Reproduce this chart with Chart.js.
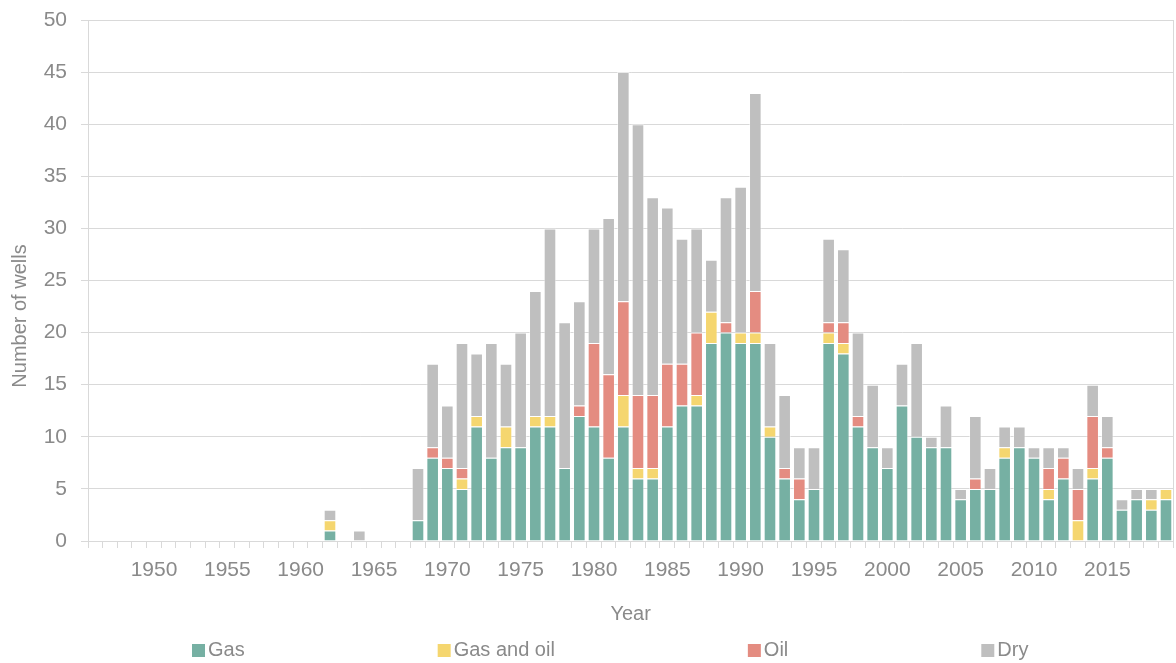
<!DOCTYPE html>
<html lang="en">
<head>
<meta charset="UTF-8">
<title>Number of wells by year</title>
<style>
  body { margin: 0; background: #fff; }
  #wrap { width: 1176px; height: 663px; }
</style>
</head>
<body>
<div id="wrap"><canvas id="wellsChart" width="1176" height="663"></canvas></div>

<script src="https://cdn.jsdelivr.net/npm/chart.js@4.4.0/dist/chart.umd.min.js"></script>
<script>
// --- Data, one entry per year 1946..2019 ---
const years = [
  1946, 1947, 1948, 1949,
  1950, 1951, 1952, 1953, 1954, 1955, 1956, 1957, 1958, 1959,
  1960, 1961, 1962, 1963, 1964, 1965, 1966, 1967, 1968, 1969,
  1970, 1971, 1972, 1973, 1974, 1975, 1976, 1977, 1978, 1979,
  1980, 1981, 1982, 1983, 1984, 1985, 1986, 1987, 1988, 1989,
  1990, 1991, 1992, 1993, 1994, 1995, 1996, 1997, 1998, 1999,
  2000, 2001, 2002, 2003, 2004, 2005, 2006, 2007, 2008, 2009,
  2010, 2011, 2012, 2013, 2014, 2015, 2016, 2017, 2018, 2019
];

const gas = [
  0, 0, 0, 0,
  0, 0, 0, 0, 0, 0, 0, 0, 0, 0,
  0, 0, 1, 0, 0, 0, 0, 0, 2, 8,
  7, 5, 11, 8, 9, 9, 11, 11, 7, 12,
  11, 8, 11, 6, 6, 11, 13, 13, 19, 20,
  19, 19, 10, 6, 4, 5, 19, 18, 11, 9,
  7, 13, 10, 9, 9, 4, 5, 5, 8, 9,
  8, 4, 6, 0, 6, 8, 3, 4, 3, 4
];

const gasAndOil = [
  0, 0, 0, 0,
  0, 0, 0, 0, 0, 0, 0, 0, 0, 0,
  0, 0, 1, 0, 0, 0, 0, 0, 0, 0,
  0, 1, 1, 0, 2, 0, 1, 1, 0, 0,
  0, 0, 3, 1, 1, 0, 0, 1, 3, 0,
  1, 1, 1, 0, 0, 0, 1, 1, 0, 0,
  0, 0, 0, 0, 0, 0, 0, 0, 1, 0,
  0, 1, 0, 2, 1, 0, 0, 0, 1, 1
];

const oil = [
  0, 0, 0, 0,
  0, 0, 0, 0, 0, 0, 0, 0, 0, 0,
  0, 0, 0, 0, 0, 0, 0, 0, 0, 1,
  1, 1, 0, 0, 0, 0, 0, 0, 0, 1,
  8, 8, 9, 7, 7, 6, 4, 6, 0, 1,
  0, 4, 0, 1, 2, 0, 1, 2, 1, 0,
  0, 0, 0, 0, 0, 0, 1, 0, 0, 0,
  0, 2, 2, 3, 5, 1, 0, 0, 0, 0
];

const dry = [
  0, 0, 0, 0,
  0, 0, 0, 0, 0, 0, 0, 0, 0, 0,
  0, 0, 1, 0, 1, 0, 0, 0, 5, 8,
  5, 12, 6, 11, 6, 11, 12, 18, 14, 10,
  11, 15, 22, 26, 19, 15, 12, 10, 5, 12,
  14, 19, 8, 7, 3, 4, 8, 7, 8, 6,
  2, 4, 9, 1, 4, 1, 6, 2, 2, 2,
  1, 2, 1, 2, 3, 3, 1, 1, 1, 0
];

// only these years get a label under the axis
const tickYears = [1950, 1955, 1960, 1965, 1970, 1975, 1980, 1985, 1990, 1995, 2000, 2005, 2010, 2015];

const seriesNames = ['Gas', 'Gas and oil', 'Oil', 'Dry'];
const seriesColors = ['#76b0a3', '#f5d66f', '#e48c81', '#bfbfbf'];

const xTitle = 'Year';
const yTitle = 'Number of wells';

// --- Styling ---
const textColor = '#8a8a8a';
const lineColor = '#d9d9d9';
const fontFamily = '"Liberation Sans", Arial, sans-serif';

// y title and the spread-out legend are drawn by hand (Chart.js legend can't space items this wide)
const sideText = {
    id: 'sideText',
    afterDraw(chart) {
        const ctx = chart.ctx;

        ctx.save();
        ctx.fillStyle = textColor;
        ctx.font = '20px ' + fontFamily;
        ctx.textAlign = 'center';
        ctx.textBaseline = 'middle';
        ctx.translate(20, 316);
        ctx.rotate(-Math.PI / 2);
        ctx.fillText(yTitle, 0, 0);
        ctx.restore();

        ctx.save();
        ctx.font = '20px ' + fontFamily;
        ctx.textAlign = 'left';
        ctx.textBaseline = 'middle';
        let x = 192;
        chart.data.datasets.forEach(ds => {
            ctx.fillStyle = ds.backgroundColor;
            ctx.fillRect(x, 644, 13, 13);
            ctx.fillStyle = textColor;
            ctx.fillText(ds.label, x + 16, 650.5);
            x += 16 + ctx.measureText(ds.label).width + 193;
        });
        ctx.restore();
    }
};

const seriesValues = [gas, gasAndOil, oil, dry];

const datasets = seriesNames.map((name, i) => ({
    label: name,
    data: seriesValues[i],
    backgroundColor: seriesColors[i],
    borderColor: 'rgba(255, 255, 255, 0.45)',
    borderWidth: 1,
    categoryPercentage: 1.0,
    barPercentage: 0.86
}));

new Chart(document.getElementById('wellsChart'), {
    type: 'bar',
    data: {
        labels: years.map(String),
        datasets: datasets
    },
    options: {
        responsive: false,
        animation: false,
        layout: {
            padding: { top: 20, right: 2, left: 0, bottom: 0 }
        },
        plugins: {
            legend: { display: false },
            tooltip: { enabled: false }
        },
        scales: {
            x: {
                stacked: true,
                afterFit(scale) { scale.height = 122; },
                grid: {
                    // only the closing line on the right edge goes up into the plot
                    color: ctx => ctx.type === 'tick' ? 'rgba(0,0,0,0)' : lineColor,
                    tickColor: lineColor,
                    tickLength: 7,
                    offset: true
                },
                border: { display: true, color: lineColor },
                ticks: {
                    autoSkip: false,
                    maxRotation: 0,
                    padding: 10,
                    color: textColor,
                    font: { family: fontFamily, size: 21 },
                    callback: (value, index) => tickYears.includes(years[index]) ? String(years[index]) : ''
                },
                title: {
                    display: true,
                    text: xTitle,
                    color: textColor,
                    font: { family: fontFamily, size: 20 },
                    padding: { top: 0, bottom: 37 }
                }
            },
            y: {
                stacked: true,
                min: 0,
                max: 50,
                afterFit(scale) {
                    scale.width = 88;
                    scale.paddingTop = 0;
                    scale.paddingBottom = 0;
                },
                grid: {
                    color: lineColor,
                    tickLength: 7
                },
                border: { display: true, color: lineColor },
                ticks: {
                    stepSize: 5,
                    padding: 14,
                    color: textColor,
                    font: { family: fontFamily, size: 21 }
                }
            }
        }
    },
    plugins: [sideText]
});
</script>
</body>
</html>
